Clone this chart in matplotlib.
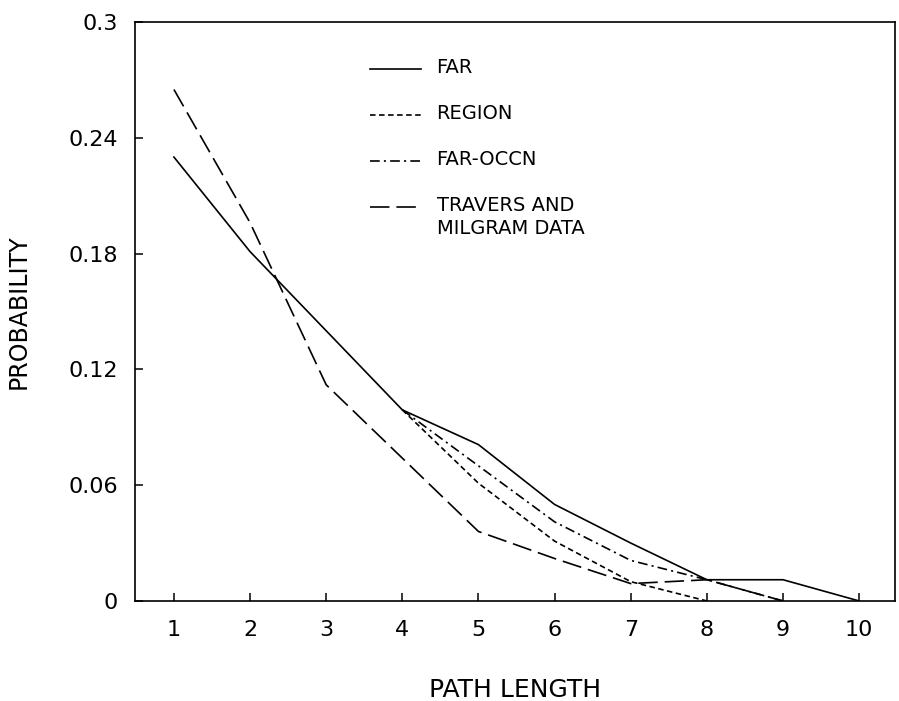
import numpy as np
import matplotlib
matplotlib.use("Agg")
import matplotlib.pyplot as plt

plt.rcParams['font.family'] = ['DejaVu Sans']
plt.rcParams['lines.scale_dashes'] = False

# valeurs
path_length = np.arange(1, 11)

far = [0.230, 0.181, 0.140, 0.099, 0.081, 0.050, 0.030, 0.011, 0.011, 0.0]
region_x = [4, 5, 6, 7, 8]
region = [0.099, 0.061, 0.031, 0.010, 0.0]
far_occn_x = [4, 5, 6, 7, 8, 9]
far_occn = [0.099, 0.070, 0.041, 0.021, 0.011, 0.0]
travers_x = [1, 2, 3, 4, 5, 6, 7, 8, 9]
travers = [0.265, 0.196, 0.112, 0.074, 0.036, 0.022, 0.009, 0.011, 0.0]

yticks = [0, 0.06, 0.12, 0.18, 0.24, 0.3]
ytick_labels = ["0", "0.06", "0.12", "0.18", "0.24", "0.3"]

series = [
    (path_length, far, "FAR", '-'),
    (region_x, region, "REGION", (0, (4, 2.5))),
    (far_occn_x, far_occn, "FAR-OCCN", (0, (7, 3, 1.5, 3))),
    (travers_x, travers, "TRAVERS AND\nMILGRAM DATA", (0, (14, 5))),
]

fig = plt.figure(figsize=(8.99, 7.01), dpi=100)
ax = fig.add_axes([0.150, 0.1427, 0.8455, 0.8260])

for x, y, label, ls in series:
    ax.plot(x, y, color='black', lw=1.2, linestyle=ls)

# legende dessinee a la main (le trait est aligne sur la premiere ligne)
row_y = 0.919
for x, y, label, ls in series:
    ax.plot([0.309, 0.376], [row_y, row_y], color='black', lw=1.2,
            linestyle=ls, transform=ax.transAxes)
    ax.text(0.397, row_y + 0.019, label, transform=ax.transAxes,
            fontsize=14, va='top', ha='left', linespacing=1.25)
    row_y -= 0.0795

ax.set_xlim(0.487, 10.47)
ax.set_ylim(0, 0.3)
ax.set_xticks(path_length)
ax.set_yticks(yticks)
ax.set_yticklabels(ytick_labels)

ax.tick_params(axis='both', direction='in', length=6, width=1.1,
               labelsize=16, top=False, right=False)
ax.tick_params(axis='x', pad=14)
ax.tick_params(axis='y', pad=12)
for s in ax.spines.values():
    s.set_linewidth(1.2)

ax.set_xlabel("PATH LENGTH", fontsize=18, labelpad=27)
ax.set_ylabel("PROBABILITY", fontsize=17, labelpad=27)

plt.savefig('out.png', dpi=100)
